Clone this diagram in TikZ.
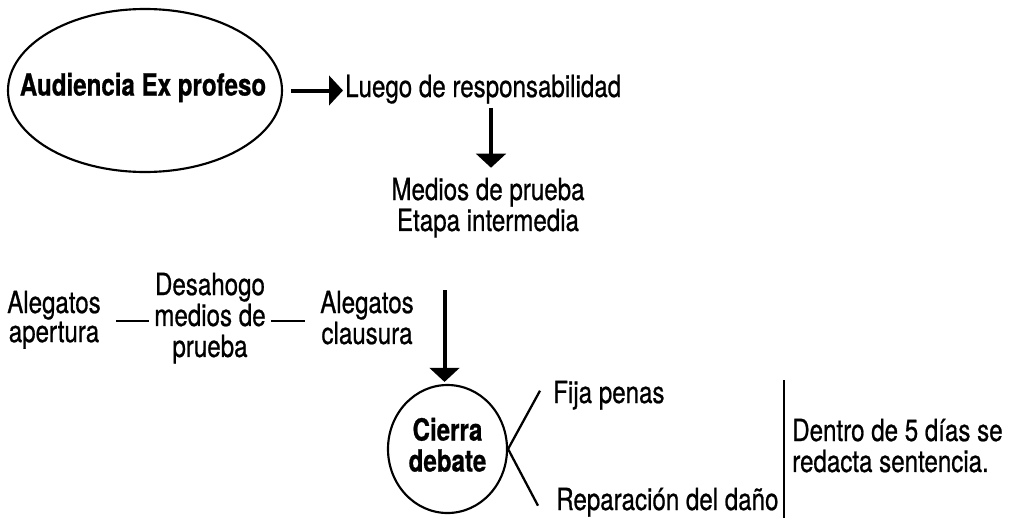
\documentclass[tikz,border=0pt]{standalone}
\usepackage{fontspec}
\setmainfont{TeX Gyre Heros}[FakeStretch=0.79, RawFeature={embolden=0.7}]
\usetikzlibrary{arrows.meta,shapes.geometric,calc}
\newcommand{\lns}[2][c]{\begin{tabular}[t]{@{}#1@{}}#2\end{tabular}}
\begin{document}
\begin{tikzpicture}[x=0.75pt,y=-0.75pt,
  lbl/.style={inner sep=0pt, font=\fontsize{22.9pt}{21.75pt}\selectfont},
  lblb/.style={inner sep=0pt, font=\fontsize{22.9pt}{21.75pt}\selectfont\bfseries},
  arr/.style={line width=3pt, -{Triangle[length=10.5pt,width=22pt]}},
  conn/.style={line width=1.7pt},
  oval/.style={ellipse, draw, line width=1.6pt, inner sep=0pt}]
\useasboundingbox (0,0) rectangle (1016,518);

% top row
\node[oval, minimum width=274*0.75pt, minimum height=163*0.75pt,
      label={[lblb, xshift=-1.5pt, yshift=2.25pt]center:Audiencia Ex profeso}] (aud) at (145,90.5) {};
\node[lbl, anchor=base west] (luego) at (345,97) {Luego de responsabilidad};
\node[lbl, anchor=base] (med) at (488,200) {\lns{Medios de prueba\\Etapa intermedia}};

% middle row
\node[lbl, anchor=base] (ap) at (54,313) {\lns{Alegatos\\apertura}};
\node[lbl, anchor=base] (des) at (210,295) {\lns{Desahogo\\medios de\\prueba}};
\node[lbl, anchor=base] (cl) at (367,313) {\lns{Alegatos\\clausura}};

% bottom row
\node[oval, lblb, minimum width=119*0.75pt, minimum height=128*0.75pt] (cierra) at (447.5,449) {\lns{Cierra\\debate}};
\node[lbl, anchor=base west] (fija) at (553,403) {Fija penas};
\node[lbl, anchor=base west] (rep) at (556,510) {Reparación del daño};
\node[lbl, anchor=base west] (dentro) at (792,441) {\lns[l]{Dentro de 5 días se\\redacta sentencia.}};
\coordinate (septop) at (784,380);
\coordinate (sepbot) at (784,518);

% connectors
\draw[arr, shorten <=6pt, shorten >=1.5pt] (aud.east) -- (aud.east -| luego.west);
\draw[arr, shorten <=3pt, shorten >=7.3pt] ($(med.north |- luego.south)+(3,0)$) -- ($(med.north)+(3,0)$);
\draw[conn, shorten <=11.25pt, shorten >=3.75pt] (ap.east) -- (ap.east -| des.west);
\draw[conn, shorten <=3.75pt, shorten >=11.25pt] (ap.east -| des.east) -- (ap.east -| cl.west);
\draw[arr, shorten >=1.5pt] ($(cl.north -| cierra.north)+(-3,0)$) -- ($(cierra.north)+(-3,0)$);
\draw[conn] (cierra.east) -- ($(fija.west)+(-13,-4.5)$);
\draw[conn] (cierra.east) -- ($(rep.west)+(-18,3.5)$);
\draw[conn] (septop) -- (sepbot);
\end{tikzpicture}
\end{document}
